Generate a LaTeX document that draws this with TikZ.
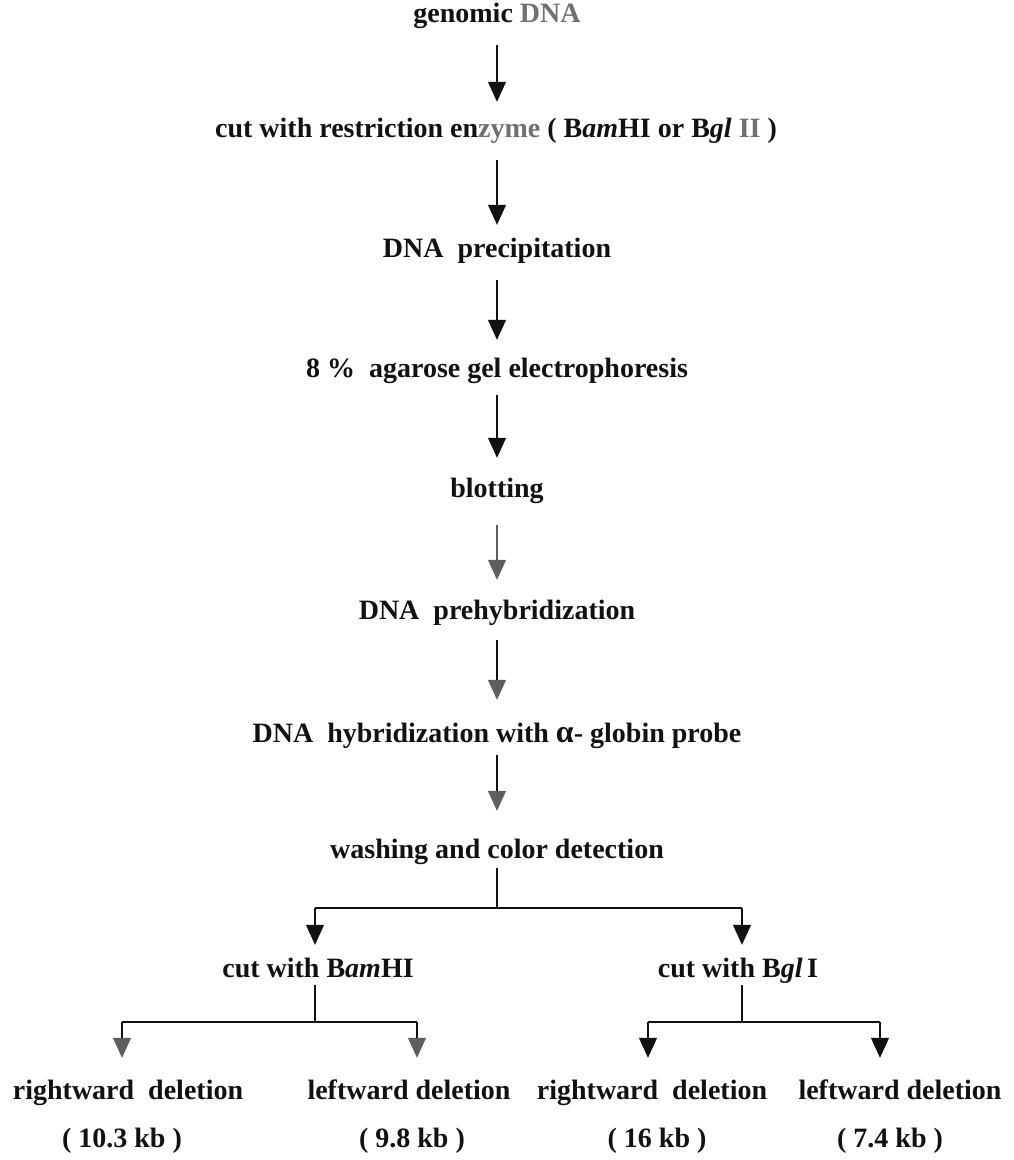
\documentclass[tikz,border=0pt]{standalone}
\usepackage{fontspec}
\setmainfont{Liberation Serif}
\usetikzlibrary{arrows.meta}
\definecolor{ink}{HTML}{111111}
\definecolor{headgray}{HTML}{5E5E5E}
\definecolor{fadegray}{HTML}{707070}
\begin{document}
\begin{tikzpicture}[x=1pt,y=-1pt,
  lbl/.style={font=\fontsize{28}{32}\selectfont\bfseries, text=ink, inner sep=0pt, text height=20pt, text depth=6pt},
  ln/.style={draw=ink, line width=1.1pt},
  arr/.style={ln, -{Triangle[width=18pt,length=20pt]}},
  garr/.style={ln, -{Triangle[width=18pt,length=20pt,color=headgray]}}]
\useasboundingbox (0,0) rectangle (1014,1160);
% nodes
\node[lbl] (g)  at (497,15)  {genomic \textcolor{fadegray}{DNA}};
\node[lbl] (c)  at (496,130) {cut with restriction en\textcolor{fadegray}{zyme} ( B\textit{am}HI or B\textit{gl} \textcolor{fadegray}{II} )};
\node[lbl] (p)  at (497,250) {DNA\ \ precipitation};
\node[lbl] (a)  at (497,370) {8 \%\ \ agarose gel electrophoresis};
\node[lbl] (b)  at (497,490) {blotting};
\node[lbl] (ph) at (497,612) {DNA\ \ prehybridization};
\node[lbl] (hy) at (497,735) {DNA\ \ hybridization with {\fontsize{32}{32}\selectfont α}- globin probe};
\node[lbl] (w)  at (497,851) {washing and color detection};
\node[lbl] (bam) at (318,970) {cut with B\textit{am}HI};
\node[lbl] (bgl) at (738,970) {cut with B\textit{gl}\,I};
\node[lbl] (r1) at (128,1092) {rightward\ \ deletion};
\node[lbl] (l1) at (409,1092) {leftward deletion};
\node[lbl] (r2) at (652,1092) {rightward\ \ deletion};
\node[lbl] (l2) at (900,1092) {leftward deletion};
\node[lbl] (k1) at (122,1140) {( 10.3 kb )};
\node[lbl] (k2) at (412,1140) {( 9.8 kb )};
\node[lbl] (k3) at (657,1140) {( 16 kb )};
\node[lbl] (k4) at (890,1140) {( 7.4 kb )};
% junctions
\coordinate (j0)  at (497,908);
\coordinate (j0l) at (315,908);
\coordinate (j0r) at (742,908);
\coordinate (j1)  at (315,1022);
\coordinate (j1l) at (122,1022);
\coordinate (j1r) at (417,1022);
\coordinate (j2)  at (742,1022);
\coordinate (j2l) at (648,1022);
\coordinate (j2r) at (880,1022);
% main chain
\draw[arr, shorten <=17pt, shorten >=15pt] (g.south) -- (g.south |- c.north);
\draw[arr, shorten <=17pt, shorten >=12pt] (g.south |- c.south) -- (g.south |- p.north);
\draw[arr, shorten <=17pt, shorten >=17pt] (p.south) -- (a.north);
\draw[arr, shorten <=12pt, shorten >=19pt] (a.south) -- (b.north);
\draw[garr, draw=headgray, shorten <=22pt, shorten >=19pt] (b.south) -- (ph.north);
\draw[garr, shorten <=15pt, shorten >=22pt] (ph.south) -- (hy.north);
\draw[garr, shorten <=7pt, shorten >=27pt] (hy.south) -- (w.north);
% first split
\draw[ln, shorten <=4pt] (w.south) -- (j0);
\draw[ln] (j0l) -- (j0r);
\draw[arr, shorten >=12pt] (j0l) -- (j0l |- bam.north);
\draw[arr, shorten >=12pt] (j0r) -- (j0r |- bgl.north);
% second splits
\draw[ln, shorten <=2pt] (j1 |- bam.south) -- (j1);
\draw[ln] (j1l) -- (j1r);
\draw[garr, shorten >=21pt] (j1l) -- (j1l |- r1.north);
\draw[garr, shorten >=21pt] (j1r) -- (j1r |- l1.north);
\draw[ln, shorten <=2pt] (j2 |- bgl.south) -- (j2);
\draw[ln] (j2l) -- (j2r);
\draw[arr, shorten >=21pt] (j2l) -- (j2l |- r2.north);
\draw[arr, shorten >=21pt] (j2r) -- (j2r |- l2.north);
\end{tikzpicture}
\end{document}
